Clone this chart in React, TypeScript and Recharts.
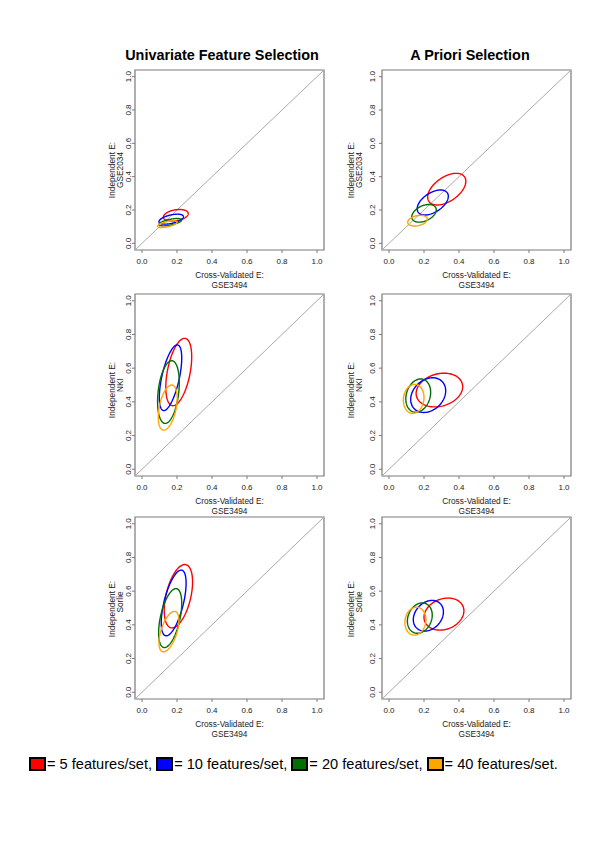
import React from "react";
import { ScatterChart, Scatter, XAxis, YAxis, ReferenceArea, ReferenceLine } from "recharts";

const font = '"Liberation Sans", Arial, Helvetica, sans-serif';

const featureSets = ["5 features/set", "10 features/set", "20 features/set", "40 features/set"];
const setColors = ["#ff0000", "#0000ff", "#007000", "#ffa500"];
const panelTitles = ["Univariate Feature Selection", "A Priori Selection"];
const validationSets = ["GSE2034", "NKI", "Sorlie"];
const trainingSet = "GSE3494";
const axisTicks = [0, 0.2, 0.4, 0.6, 0.8, 1.0];

// one ellipse per feature set: [centre x, centre y, half width, half height, correlation]
const univariateGSE2034 = [
  [0.193, 0.168, 0.071, 0.035, 0.3],
  [0.167, 0.145, 0.07, 0.03, 0.5],
  [0.162, 0.127, 0.065, 0.022, 0.6],
  [0.145, 0.115, 0.056, 0.02, 0.6],
];
const aprioriGSE2034 = [
  [0.33, 0.325, 0.109, 0.095, 0.5],
  [0.25, 0.245, 0.089, 0.075, 0.5],
  [0.2, 0.18, 0.07, 0.053, 0.4],
  [0.163, 0.136, 0.056, 0.032, 0.3],
];
const univariateNKI = [
  [0.21, 0.577, 0.074, 0.2, 0.45],
  [0.163, 0.543, 0.064, 0.195, 0.6],
  [0.151, 0.458, 0.062, 0.186, 0.3],
  [0.147, 0.366, 0.054, 0.134, 0.42],
];
const aprioriNKI = [
  [0.288, 0.47, 0.133, 0.1, 0.2],
  [0.224, 0.44, 0.1, 0.103, 0.25],
  [0.167, 0.437, 0.071, 0.099, 0.2],
  [0.141, 0.418, 0.059, 0.086, 0.1],
];
const univariateSorlie = [
  [0.208, 0.57, 0.081, 0.188, 0.45],
  [0.181, 0.53, 0.071, 0.195, 0.6],
  [0.161, 0.44, 0.066, 0.175, 0.5],
  [0.154, 0.36, 0.057, 0.12, 0.55],
];
const aprioriSorlie = [
  [0.314, 0.464, 0.114, 0.095, 0.2],
  [0.225, 0.454, 0.086, 0.091, 0.25],
  [0.176, 0.44, 0.071, 0.09, 0.2],
  [0.151, 0.422, 0.06, 0.083, 0.1],
];

const panelRows = [
  [univariateGSE2034, aprioriGSE2034],
  [univariateNKI, aprioriNKI],
  [univariateSorlie, aprioriSorlie],
];

// layout
const boxW = 189;
const colLeft = [135, 382];
const rowTop = [70, 294, 517];
const rowH = [180, 182, 182];
const yTickGap = [1.5, 4];
const yTitleX = [[-23.5, -15.5], [-31, -23]];
const yTitleY = [[10, 10], [5, 0], [1, -6]];
const boxColor = "#7a7a7a";

// outline of an ellipse given by its bounding half widths and correlation
function outline(e: number[]) {
  const [cx, cy, hx, hy, r] = e;
  const d = Math.acos(r);
  const pts: { x: number; y: number }[] = [];
  for (let i = 0; i <= 120; i++) {
    const t = (i / 120) * 2 * Math.PI;
    pts.push({ x: cx + hx * Math.cos(t + d / 2), y: cy + hy * Math.cos(t - d / 2) });
  }
  return pts;
}

const XTick = (props: any) => {
  const { x, y, payload } = props;
  return (
    <text x={x} y={y} dy={11} textAnchor="middle" fontSize={8} fill="#222" fontFamily={font}>
      {Number(payload.value).toFixed(1)}
    </text>
  );
};

const makeYTick = (gap: number) => (props: any) => {
  const { x, y, payload } = props;
  return (
    <text transform={`translate(${x - gap},${y}) rotate(-90)`} textAnchor="middle" fontSize={8} fill="#222" fontFamily={font}>
      {Number(payload.value).toFixed(1)}
    </text>
  );
};

function Panel({ row, col }: { row: number; col: number }) {
  const left = colLeft[col];
  const top = rowTop[row];
  const h = rowH[row];
  const ellipses = panelRows[row][col];
  return (
    <div style={{ position: "absolute", left: left - 40, top: top - 5 }}>
      <ScatterChart width={40 + boxW + 5} height={5 + h + 25} margin={{ top: 5, right: 5, bottom: 0, left: 0 }}>
        <XAxis
          type="number"
          dataKey="x"
          domain={[-0.04, 1.04]}
          ticks={axisTicks}
          allowDataOverflow
          axisLine={false}
          tickSize={3}
          tickMargin={0}
          tickLine={{ stroke: boxColor }}
          tick={XTick}
          interval={0}
          height={25}
        />
        <YAxis
          type="number"
          dataKey="y"
          domain={[-0.04, 1.04]}
          ticks={axisTicks}
          allowDataOverflow
          axisLine={false}
          tickSize={3}
          tickMargin={0}
          tickLine={{ stroke: boxColor }}
          tick={makeYTick(yTickGap[col])}
          interval={0}
          width={40}
        />
        <ReferenceArea x1={-0.04} x2={1.04} y1={-0.04} y2={1.04} fill="none" stroke={boxColor} strokeWidth={1.2} />
        <ReferenceLine segment={[{ x: -0.04, y: -0.04 }, { x: 1.04, y: 1.04 }]} stroke="#a8a8a8" />
        {ellipses.map((e, i) => (
          <Scatter
            key={featureSets[i]}
            name={featureSets[i]}
            data={outline(e)}
            fill={setColors[i]}
            line={{ stroke: setColors[i], strokeWidth: 1.4 }}
            shape={() => <g />}
            isAnimationActive={false}
          />
        ))}
      </ScatterChart>
    </div>
  );
}

export default function App() {
  const panels = [];
  for (let r = 0; r < 3; r++) for (let c = 0; c < 2; c++) panels.push(<Panel key={`${r}-${c}`} row={r} col={c} />);

  const texts = [];
  for (let r = 0; r < 3; r++) {
    for (let c = 0; c < 2; c++) {
      const L = colLeft[c];
      const bottom = rowTop[r] + rowH[r];
      const cxBox = L + boxW / 2;
      const cyBox = rowTop[r] + rowH[r] / 2;
      texts.push(
        <g key={`t-${r}-${c}`} fontFamily={font} fontSize={8.3} fill="#222">
          <text x={cxBox} y={bottom + 28} textAnchor="middle">Cross-Validated E:</text>
          <text x={cxBox} y={bottom + 37.5} textAnchor="middle">{trainingSet}</text>
          <text transform={`translate(${L + yTitleX[c][0] + 3},${cyBox + yTitleY[r][0]}) rotate(-90)`} textAnchor="middle">
            Independent E:
          </text>
          <text transform={`translate(${L + yTitleX[c][1] + 3},${cyBox + yTitleY[r][1]}) rotate(-90)`} textAnchor="middle">
            {validationSets[r]}
          </text>
        </g>
      );
    }
  }

  return (
    <div style={{ position: "absolute", left: 0, top: 0, width: 600, height: 858, background: "#fff" }}>
      {panels}
      <svg width={600} height={858} style={{ position: "absolute", left: 0, top: 0, pointerEvents: "none" }}>
        <text x={222} y={60} textAnchor="middle" fontFamily={font} fontWeight="bold" fontSize={14.4} fill="#000">
          {panelTitles[0]}
        </text>
        <text x={470} y={60} textAnchor="middle" fontFamily={font} fontWeight="bold" fontSize={14.4} fill="#000">
          {panelTitles[1]}
        </text>
        {texts}
      </svg>
      <div
        style={{
          position: "absolute",
          left: 29,
          top: 756.5,
          height: 15,
          display: "flex",
          alignItems: "center",
          fontFamily: font,
          fontSize: 14.6,
          lineHeight: "15px",
          whiteSpace: "pre",
          color: "#000",
        }}
      >
        {featureSets.map((s, i) => (
          <React.Fragment key={s}>
            <span
              style={{
                display: "inline-block",
                width: 13,
                height: 9.5,
                border: "2px solid #000",
                background: setColors[i],
                marginRight: 1,
              }}
            />
            <span>{`= ${s}${i < featureSets.length - 1 ? ", " : "."}`}</span>
          </React.Fragment>
        ))}
      </div>
    </div>
  );
}
